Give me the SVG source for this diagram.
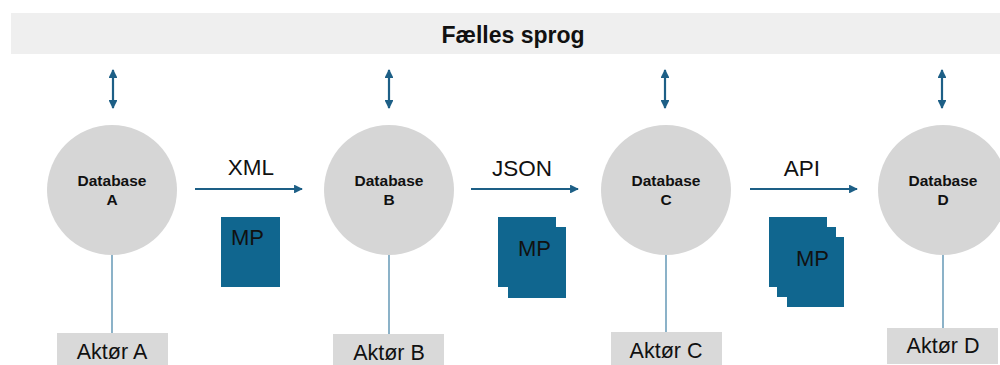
<svg xmlns="http://www.w3.org/2000/svg" width="1000" height="365" viewBox="0 0 1000 365">
<style>
.db{fill:#d6d6d6}
.dbt{font-family:"Liberation Sans",Arial,sans-serif;font-weight:bold;font-size:15.5px;fill:#111;text-anchor:middle}
.lbl{font-family:"Liberation Sans",Arial,sans-serif;font-size:22.5px;fill:#111;text-anchor:middle}
.mp{fill:#10668f}
.mpt{font-family:"Liberation Sans",Arial,sans-serif;font-size:22px;fill:#111}
.act{fill:#d9d9d9}
.actt{font-family:"Liberation Sans",Arial,sans-serif;font-size:21.5px;fill:#111;text-anchor:middle}
.arr{stroke:#1d5f86;stroke-width:2.2;fill:none}
.thin{stroke:#3f7fa3;stroke-width:1.2;fill:none}
</style>
<defs>
<marker id="ah" viewBox="0 0 10 10" refX="9" refY="5" markerWidth="4" markerHeight="4" orient="auto-start-reverse" markerUnits="strokeWidth">
<path d="M0,0 L10,5 L0,10 z" fill="#1d5f86"/>
</marker>
</defs>
<g id="header">
<rect x="11" y="13" width="989" height="41" fill="#efefef"/>
<text x="513" y="42.5" font-family="Liberation Sans,Arial,sans-serif" font-weight="bold" font-size="23" fill="#111" text-anchor="middle">Fælles sprog</text>
</g>
<g id="connectors">
<line class="arr" x1="113" y1="70" x2="113" y2="108" marker-start="url(#ah)" marker-end="url(#ah)"/>
<line class="arr" x1="389" y1="70" x2="389" y2="108" marker-start="url(#ah)" marker-end="url(#ah)"/>
<line class="arr" x1="665" y1="70" x2="665" y2="108" marker-start="url(#ah)" marker-end="url(#ah)"/>
<line class="arr" x1="942" y1="70" x2="942" y2="108" marker-start="url(#ah)" marker-end="url(#ah)"/>
<line class="arr" x1="195" y1="189" x2="302" y2="189" marker-end="url(#ah)"/>
<line class="arr" x1="471" y1="189" x2="578" y2="189" marker-end="url(#ah)"/>
<line class="arr" x1="750" y1="189" x2="857" y2="189" marker-end="url(#ah)"/>
<line class="thin" x1="112" y1="255" x2="112" y2="334"/>
<line class="thin" x1="389" y1="255" x2="389" y2="334"/>
<line class="thin" x1="666" y1="255" x2="666" y2="333"/>
<line class="thin" x1="943" y1="255" x2="943" y2="328"/>
<text class="lbl" x="251" y="175">XML</text>
<text class="lbl" x="522" y="176">JSON</text>
<text class="lbl" x="802" y="176">API</text>
</g>
<g id="dbA">
<circle class="db" cx="112" cy="190" r="65"/>
<text class="dbt" x="112" y="186">Database</text>
<text class="dbt" x="112" y="205">A</text>
</g>
<g id="dbB">
<circle class="db" cx="389" cy="190" r="65"/>
<text class="dbt" x="389" y="186">Database</text>
<text class="dbt" x="389" y="205">B</text>
</g>
<g id="dbC">
<circle class="db" cx="666" cy="190" r="65"/>
<text class="dbt" x="666" y="186">Database</text>
<text class="dbt" x="666" y="205">C</text>
</g>
<g id="dbD">
<circle class="db" cx="943" cy="190" r="65"/>
<text class="dbt" x="943" y="186">Database</text>
<text class="dbt" x="943" y="205">D</text>
</g>
<g id="mp1">
<rect class="mp" x="221" y="217" width="59" height="70"/>
<text class="mpt" x="231" y="245">MP</text>
</g>
<g id="mp2">
<rect class="mp" x="498" y="217" width="58" height="70"/>
<rect class="mp" x="508" y="227" width="58" height="71"/>
<text class="mpt" x="518" y="256">MP</text>
</g>
<g id="mp3">
<rect class="mp" x="769" y="217" width="58" height="70"/>
<rect class="mp" x="777" y="227" width="59" height="70"/>
<rect class="mp" x="787" y="237" width="57" height="70"/>
<text class="mpt" x="796" y="266">MP</text>
</g>
<g id="actA">
<rect class="act" x="57" y="333" width="111" height="40"/>
<text class="actt" x="112" y="359">Aktør A</text>
</g>
<g id="actB">
<rect class="act" x="333" y="334" width="111" height="40"/>
<text class="actt" x="389" y="360">Aktør B</text>
</g>
<g id="actC">
<rect class="act" x="611" y="332" width="111" height="40"/>
<text class="actt" x="666" y="358">Aktør C</text>
</g>
<g id="actD">
<rect class="act" x="887" y="328" width="111" height="36"/>
<text class="actt" x="943" y="353">Aktør D</text>
</g>
</svg>
